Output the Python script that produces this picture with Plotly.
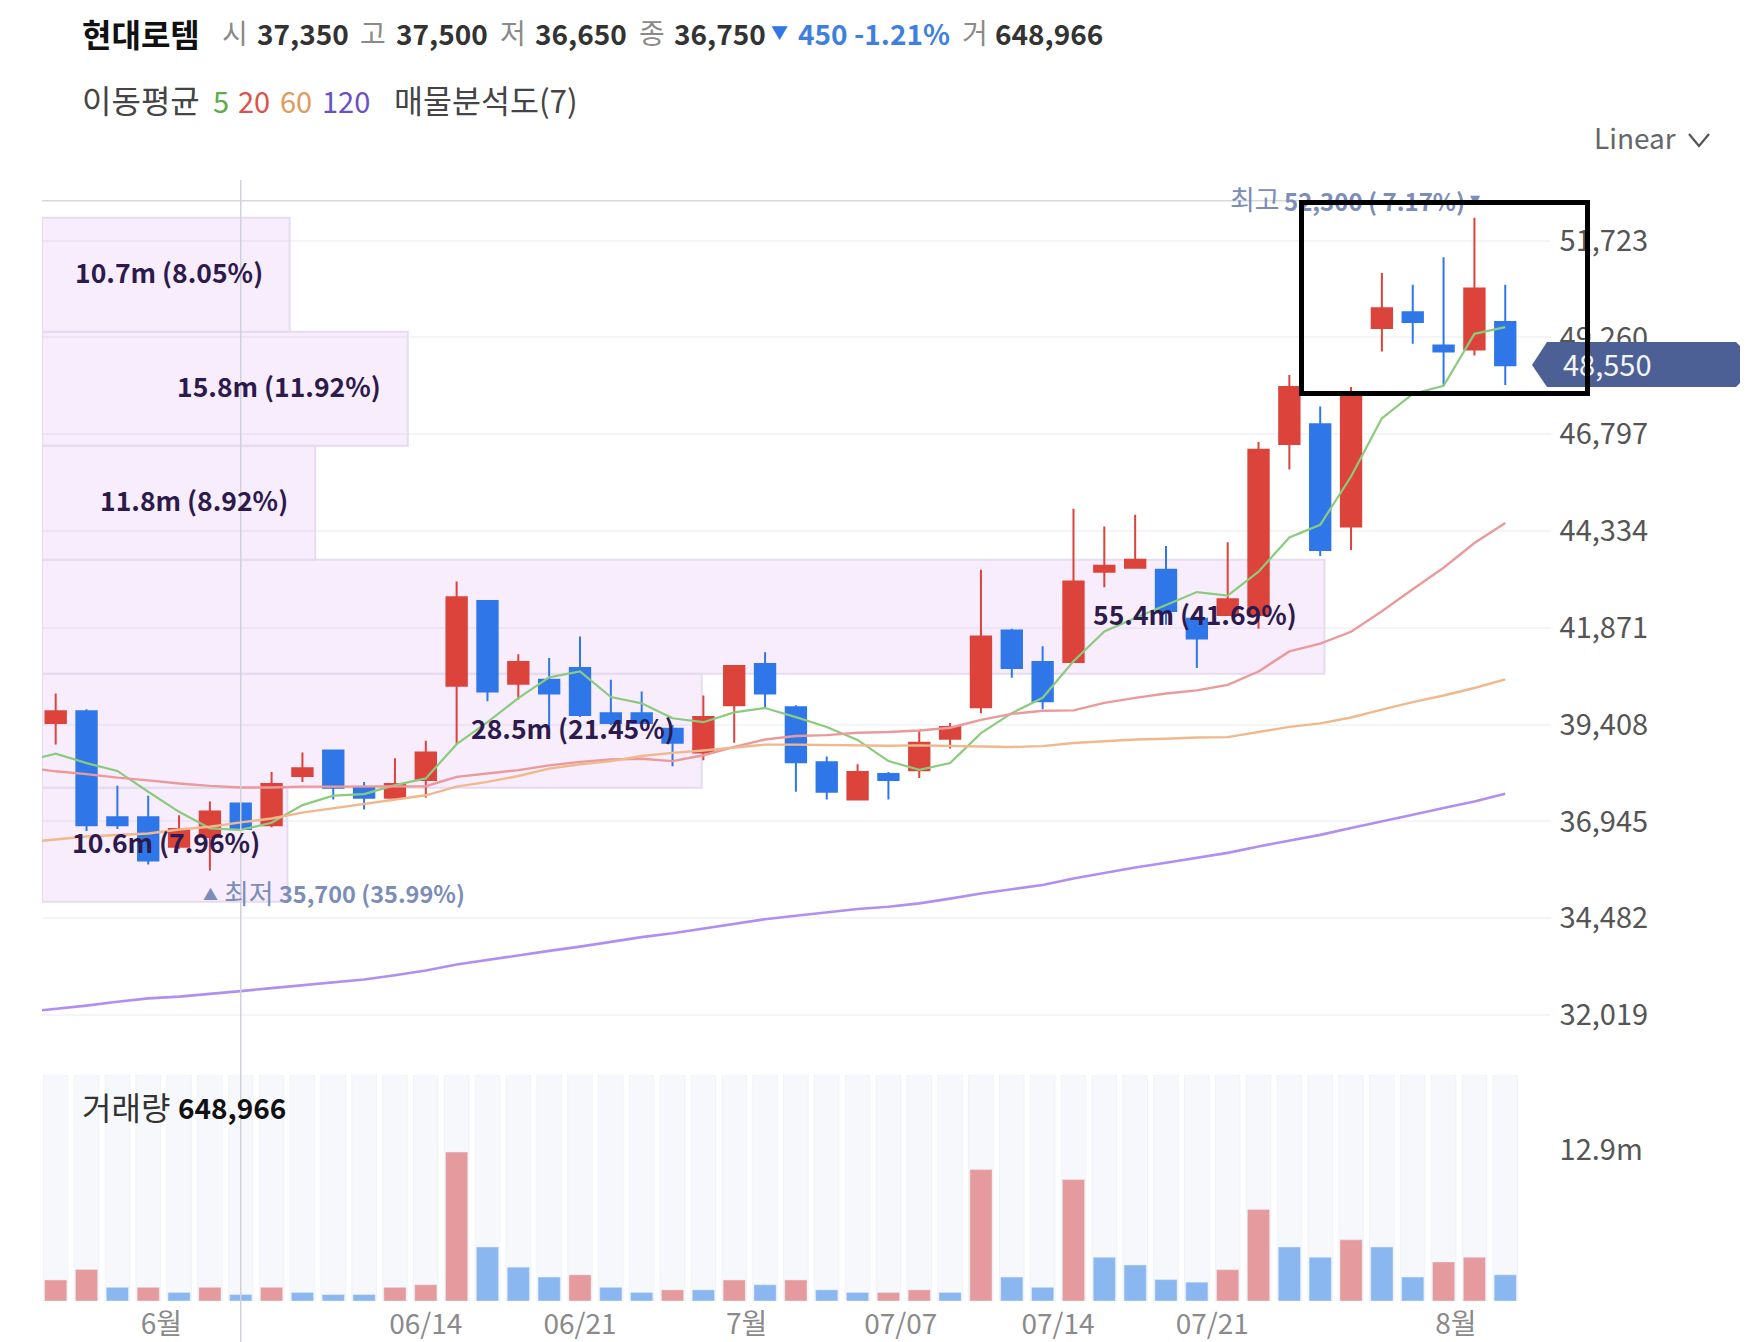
"""
Hyundai Rotem daily candles with moving averages, volume profile and volume
"""
import plotly.graph_objs as go

W, H = 1760, 1342
FONT = 'Noto Sans CJK KR'

RED = '#db433b'
BLUE = '#2f77e9'

days = list(range(48))
ma_days = list(range(-1, 48))

highs = [40200, 39800, 37850, 37600, 37100, 37450, 37400, 38200, 38700, 38750, 37950, 38550,
         39000, 43050, 42550, 41200, 41100, 41650, 40550, 40250, 39400, 40150, 40900, 41250,
         39900, 38600, 38400, 38200, 39250, 39450, 43350, 41850, 41400, 44900, 44450, 44750,
         43950, 42150, 44050, 46600, 48300, 47500, 48000, 50900, 50600, 51300, 52300, 50600]
lows = [38900, 36700, 36750, 35850, 36250, 35700, 36750, 36800, 37950, 37500, 37250, 37500,
        37550, 38900, 40000, 40050, 39350, 39600, 39400, 39350, 38350, 38500, 38950, 39850,
        37700, 37500, 37500, 37500, 38050, 38800, 39700, 40600, 39800, 41000, 42900, 43400,
        41950, 40850, 42200, 41850, 45900, 43700, 43850, 48900, 49100, 48050, 48800, 48050]
opens = [39450, 39750, 37050, 37050, 36300, 36550, 37400, 36850, 38100, 38750, 37800, 37550,
         38000, 40400, 42550, 40450, 40550, 40850, 39700, 39700, 39300, 38700, 39900, 40950,
         39850, 38450, 37500, 38150, 38250, 39050, 39850, 41800, 41000, 41000, 43300, 43400,
         43350, 42100, 42200, 42200, 46550, 47050, 44450, 49500, 49900, 49050, 48950, 49650]
closes = [39750, 36850, 36850, 35950, 36750, 37200, 36750, 37900, 38300, 37800, 37550, 37900,
          38700, 42650, 40250, 41000, 40200, 39650, 39450, 39450, 38950, 39600, 40900, 40200,
          38450, 37700, 38200, 38000, 38950, 39350, 41650, 40850, 40000, 43050, 43450, 43600,
          42300, 41600, 42600, 46400, 48000, 43850, 47750, 50000, 49650, 48900, 50500, 48550]

ma5 = [38475, 38670, 38430, 38230, 37700, 37190, 36770, 36730, 36910, 37360, 37600, 37640, 37870,
       38040, 38910, 39470, 40080, 40610, 40760, 40110, 39950, 39570, 39470, 39720, 39830, 39600,
       39350, 39020, 38480, 38260, 38430, 39190, 39700, 40090, 41020, 41780, 42120, 42440, 42780,
       42690, 43300, 44170, 44490, 45720, 47200, 47820, 48030, 49350, 49520]
ma20 = [38315, 38220, 38150, 38060, 37990, 37910, 37850, 37810, 37810, 37830, 37830, 37830, 37830,
        37840, 38080, 38160, 38250, 38370, 38460, 38520, 38540, 38480, 38630, 38840, 39030, 39120,
        39140, 39200, 39220, 39260, 39330, 39530, 39680, 39760, 39770, 39960, 40090, 40200, 40280,
        40420, 40760, 41270, 41470, 41770, 42290, 42850, 43400, 44030, 44540]
ma60 = [36415, 36490, 36560, 36600, 36640, 36740, 36810, 36920, 37020, 37170, 37280, 37390, 37490,
        37610, 37830, 37950, 38100, 38290, 38400, 38480, 38610, 38690, 38750, 38820, 38900, 38900,
        38890, 38880, 38870, 38880, 38860, 38850, 38840, 38860, 38940, 38990, 39030, 39050, 39080,
        39090, 39220, 39350, 39440, 39590, 39790, 39980, 40150, 40340, 40560]
ma120 = [32096, 32172, 32259, 32357, 32444, 32488, 32553, 32629, 32705, 32782, 32847, 32923, 33032,
         33152, 33304, 33424, 33544, 33653, 33761, 33881, 34001, 34099, 34219, 34349, 34458, 34545,
         34632, 34719, 34774, 34861, 34981, 35111, 35220, 35329, 35492, 35634, 35775, 35895, 36015,
         36145, 36309, 36450, 36603, 36777, 36940, 37114, 37288, 37452, 37648]

# volume in millions of shares, coloured against the previous close
volumes = [1.8, 2.7, 1.17, 1.17, 0.73, 1.17, 0.55, 1.17, 0.73, 0.55, 0.55, 1.17,
           1.39, 12.75, 4.62, 2.9, 2.05, 2.24, 1.17, 0.73, 0.95, 0.95, 1.8, 1.39,
           1.8, 0.95, 0.73, 0.73, 0.95, 0.73, 11.25, 2.05, 1.17, 10.4, 3.74, 3.08,
           1.83, 1.61, 2.68, 7.84, 4.62, 3.74, 5.24, 4.62, 2.05, 3.34, 3.74, 2.24]
vol_up = [1, 1, 0, 1, 0, 1, 0, 1, 0, 0, 0, 1,
          1, 1, 0, 0, 0, 1, 0, 0, 1, 0, 1, 0,
          1, 0, 0, 1, 1, 0, 1, 0, 0, 1, 0, 0,
          0, 0, 1, 1, 0, 0, 1, 0, 0, 1, 1, 0]
vol_top = [19.35] * 48

# volume profile, top band first
profile_mid = [50850, 47950, 45050, 42150, 39250, 36350]
profile_m = [10.7, 15.8, 11.8, 55.4, 28.5, 10.6]
profile_text = ['10.7m (8.05%)', '15.8m (11.92%)', '11.8m (8.92%)',
                '55.4m (41.69%)', '28.5m (21.45%)', '10.6m (7.96%)']
profile_band = 2901

price_ticks = [51723, 49260, 46797, 44334, 41871, 39408, 36945, 34482, 32019]
price_labels = ['51,723', '49,260', '46,797', '44,334', '41,871', '39,408', '36,945', '34,482', '32,019']
date_ticks = [3.43, 12, 17, 22.4, 27.4, 32.5, 37.5, 45.4]
date_labels = ['6월', '06/14', '06/21', '7월', '07/07', '07/14', '07/21', '8월']


def px(x):
    return x / W


def py(y):
    return 1 - y / H


def note(x, y, text, size, color, bold=False, anchor='left'):
    return dict(
        x=px(x), y=py(y), xref='paper', yref='paper', text=text, showarrow=False,
        xanchor=anchor, yanchor='middle', borderpad=0,
        font=dict(family=FONT, size=size, color=color, weight='bold' if bold else 'normal')
    )


def path(points, close=True):
    s = 'M ' + ' L '.join('%.5f %.5f' % (px(a), py(b)) for a, b in points)
    return s + (' Z' if close else '')


vol_colors = ['#e59b9d' if up else '#8ab7f0' for up in vol_up]

data = [
    go.Bar(
        x=profile_m, y=profile_mid, orientation='h', width=profile_band, xaxis='x', yaxis='y',
        marker=dict(color='rgba(205,130,240,0.14)', line=dict(color='#e6dcf1', width=2)),
        hoverinfo='skip'
    ),
    go.Candlestick(
        x=days, open=opens, high=highs, low=lows, close=closes, xaxis='x2', yaxis='y',
        increasing=dict(line=dict(color=RED, width=2), fillcolor=RED),
        decreasing=dict(line=dict(color=BLUE, width=2), fillcolor=BLUE),
        whiskerwidth=0, name='price'
    ),
    go.Scatter(x=ma_days, y=ma5, mode='lines', xaxis='x2', yaxis='y', line=dict(color='#8ccb7e', width=2.2)),
    go.Scatter(x=ma_days, y=ma20, mode='lines', xaxis='x2', yaxis='y', line=dict(color='#ea9a9a', width=2.4)),
    go.Scatter(x=ma_days, y=ma60, mode='lines', xaxis='x2', yaxis='y', line=dict(color='#f0b88c', width=2.4)),
    go.Scatter(x=ma_days, y=ma120, mode='lines', xaxis='x2', yaxis='y', line=dict(color='#b18ff0', width=2.6)),
    go.Bar(x=days, y=vol_top, width=0.8, xaxis='x3', yaxis='y2', marker=dict(color='#f6f8fb'), hoverinfo='skip'),
    go.Bar(x=days, y=volumes, width=0.72, xaxis='x3', yaxis='y2', marker=dict(color=vol_colors)),
]

x_domain = [px(42), px(1550.6)]
index_range = [-0.444, 48.47]

annotations = [note(1593, 137, 'Linear', 28, '#666666')]

# header row
annotations += [
    note(81, 33, '현대로템', 32, '#111111', bold=True),
    note(221, 32, '시', 28, '#8a8a8a'), note(256, 33, '37,350', 28, '#333333', bold=True),
    note(359, 32, '고', 28, '#8a8a8a'), note(395, 33, '37,500', 28, '#333333', bold=True),
    note(499, 32, '저', 28, '#8a8a8a'), note(534, 33, '36,650', 28, '#333333', bold=True),
    note(638, 32, '종', 28, '#8a8a8a'), note(673, 33, '36,750', 28, '#333333', bold=True),
    note(770, 32, '▼', 17, '#2f77e9'), note(797, 33, '450 -1.21%', 28, '#3f7fe0', bold=True),
    note(961, 32, '거', 28, '#8a8a8a'), note(994, 33, '648,966', 28, '#333333', bold=True),
]

# moving average legend row
annotations += [
    note(81, 99, '이동평균', 32, '#444444'),
    note(212, 100, '5', 29, '#5cab48'), note(237, 100, '20', 29, '#d9534f'),
    note(279, 100, '60', 29, '#df9a5c'), note(321, 100, '120', 29, '#6a4fc8'),
    note(393, 99, '매물분석도(7)', 31.5, '#444444'),
]

# volume profile labels, right aligned inside their bands
for m, mid, label in zip(profile_m, profile_mid, profile_text):
    annotations.append(dict(
        x=m, y=mid, xref='x', yref='y', text=label, showarrow=False, xanchor='right', yanchor='middle',
        xshift=-26, yshift=3, borderpad=0, font=dict(family=FONT, size=26.5, color='#2c1a4c', weight='bold')
    ))

# high and low callouts
annotations += [
    note(1229, 199, '최고', 27, '#7b8db8'),
    note(1283, 200, '52,300 ( 7.17%)', 24, '#7b8db8', bold=True),
    note(1469, 197, '▾', 20, '#7b8db8'),
    note(202, 893, '▲', 15, '#7b8db8'),
    note(223, 892, '최저', 27, '#7b8db8'),
    note(278, 893, '35,700 (35.99%)', 23.5, '#7b8db8', bold=True),
    note(81, 1106, '거래량', 32, '#333333'),
    note(177, 1107, '648,966', 28, '#111111', bold=True),
    note(1562, 363, '48,550', 29, '#f4f5f9'),
    # black highlight frame has to sit above every label
    dict(
        x=px(1444.5), y=py(298.3), xref='paper', yref='paper', text=' ', showarrow=False,
        xanchor='center', yanchor='middle', width=281, height=186,
        bordercolor='#000000', borderwidth=5, borderpad=0, bgcolor='rgba(0,0,0,0)'
    ),
]

shapes = [
    dict(type='line', xref='x2', yref='paper', x0=6, x1=6, y0=py(180), y1=0,
         line=dict(color='#cfd2de', width=1.5), layer='above'),
    dict(type='line', xref='paper', yref='paper', x0=px(42), x1=px(1535), y0=py(200.7), y1=py(200.7),
         line=dict(color='#d8d8dc', width=1.5), layer='below'),
    # last price tag
    dict(type='path', xref='paper', yref='paper', layer='above', line=dict(width=0), fillcolor='#4d6096',
         path=path([(1532, 365), (1547, 342), (1736, 342), (1740, 346), (1740, 383), (1736, 387), (1547, 387)])),
    # scale dropdown chevron
    dict(type='path', xref='paper', yref='paper', layer='above', line=dict(color='#555555', width=2.2),
         path=path([(1689, 134), (1699, 146), (1709, 134)], close=False)),
]

# automargin off: the date labels run to the bottom edge and would shrink the plot
layout = go.Layout(
    width=W, height=H, autosize=False, margin=dict(l=0, r=0, t=0, b=0, pad=0),
    paper_bgcolor='white', plot_bgcolor='rgba(0,0,0,0)', showlegend=False,
    barmode='overlay', boxgap=0.34, boxgroupgap=0, hovermode=False,
    font=dict(family=FONT),
    xaxis=dict(domain=x_domain, range=[0, 65.17], visible=False, anchor='y', fixedrange=True, automargin=False),
    xaxis2=dict(domain=x_domain, range=index_range, overlaying='x', anchor='y', visible=False,
                rangeslider=dict(visible=False), fixedrange=True, automargin=False),
    xaxis3=dict(domain=x_domain, range=index_range, anchor='y2', side='bottom', showgrid=False, zeroline=False,
                showline=False, ticks='', tickvals=date_ticks, ticktext=date_labels, ticklabelstandoff=4,
                tickfont=dict(family=FONT, size=28, color='#8a8a8a'), fixedrange=True, automargin=False),
    yaxis=dict(domain=[py(1060), py(190)], range=[30876, 53009], side='right', anchor='x',
               tickvals=price_ticks, ticktext=price_labels, showgrid=True, gridcolor='#f5f5f7', gridwidth=2,
               zeroline=False, showline=False, ticks='', ticklabelstandoff=8,
               tickfont=dict(family=FONT, size=29, color='#555555'), fixedrange=True, automargin=False),
    yaxis2=dict(domain=[py(1301), py(1075)], range=[0, 19.35], side='right', anchor='x3',
                tickvals=[12.9], ticktext=['12.9m'], showgrid=False, zeroline=False, showline=False,
                ticks='', ticklabelstandoff=8, tickfont=dict(family=FONT, size=29, color='#555555'),
                fixedrange=True, automargin=False),
    annotations=annotations, shapes=shapes,
)

fig = go.Figure(data=data, layout=layout)
# drop the page's default body margin so the figure fills the window exactly
fig.write_html("out.html", config={'displayModeBar': False},
               post_script="document.body.style.margin = '0';")
